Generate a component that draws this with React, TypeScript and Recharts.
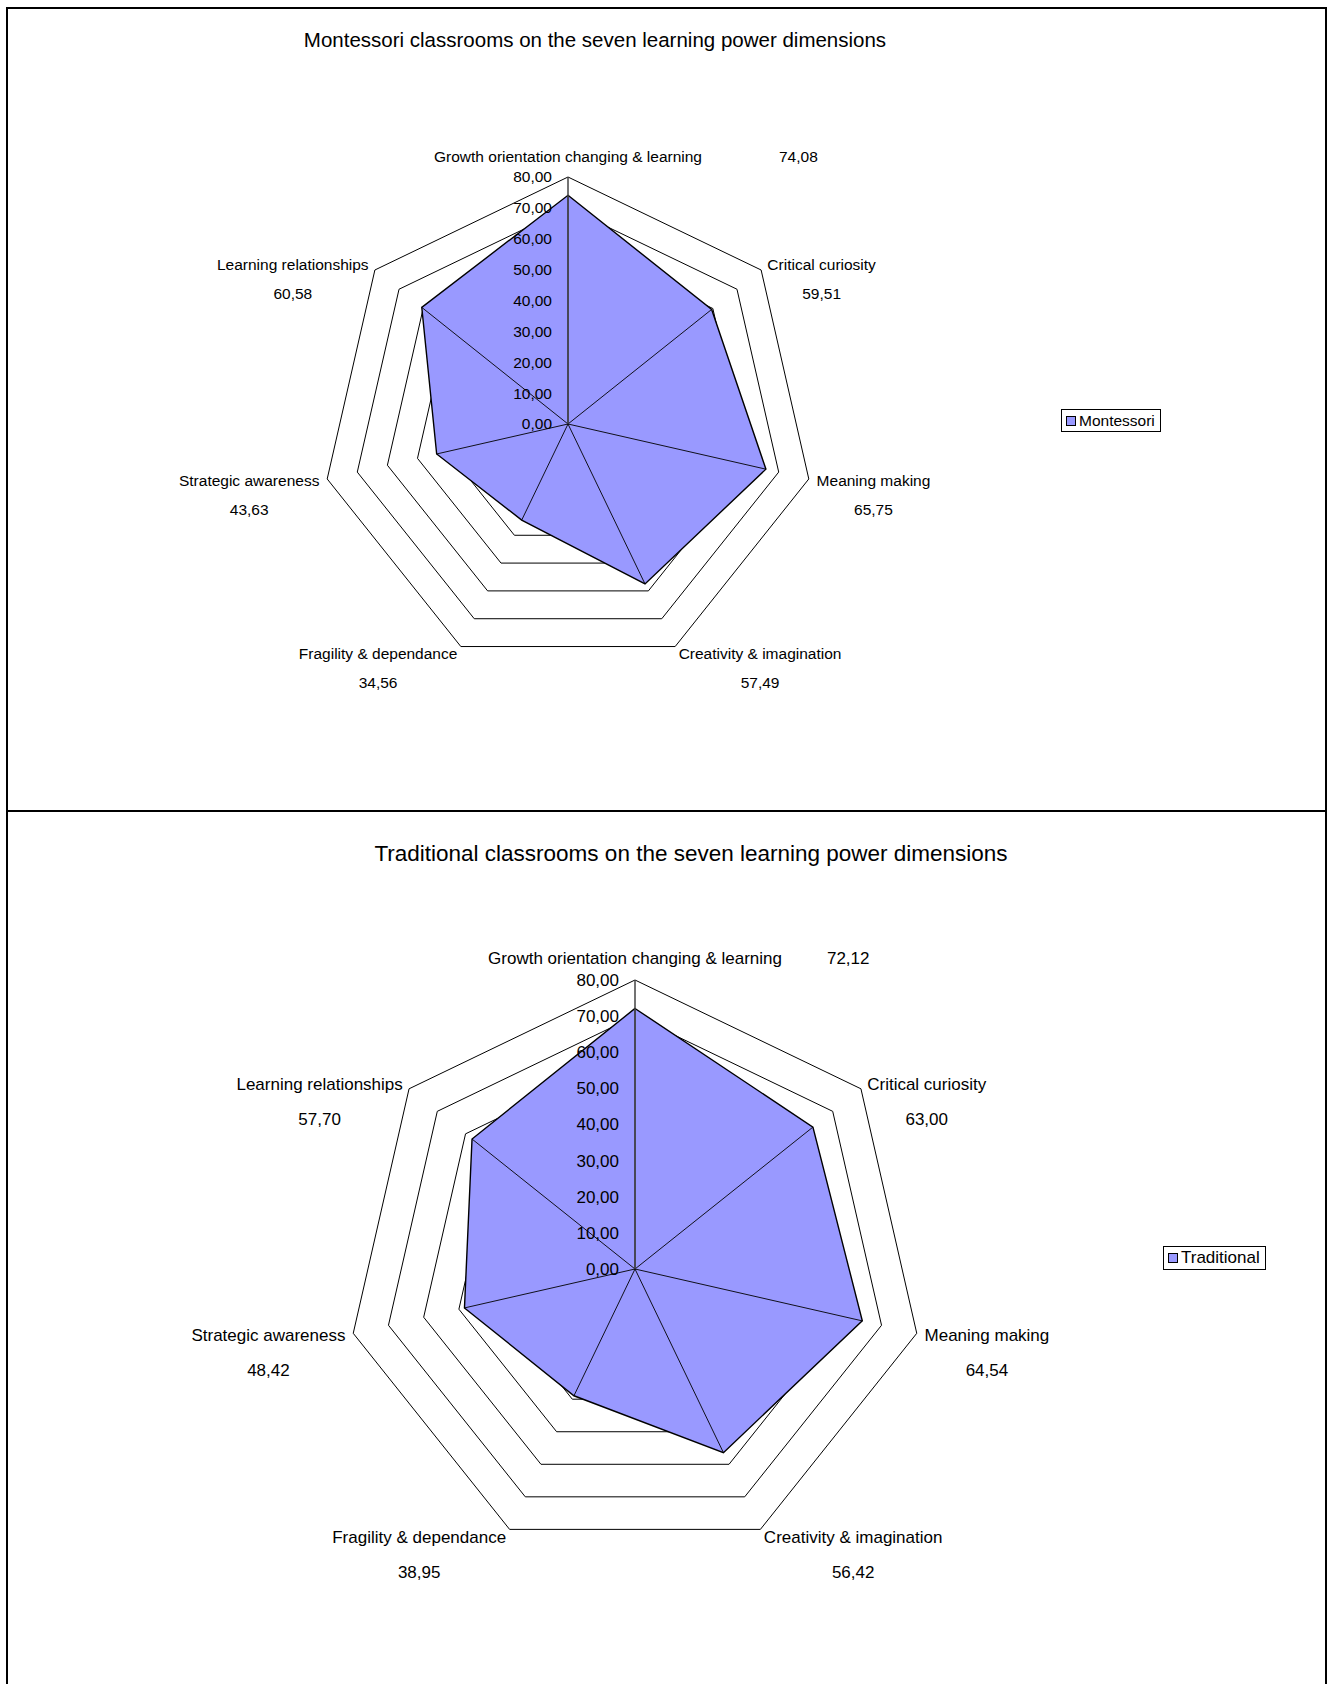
import React from "react";
import {
  RadarChart,
  Radar,
  PolarGrid,
  PolarAngleAxis,
  PolarRadiusAxis,
  Legend,
} from "recharts";

const FONT = '"Liberation Sans", Arial, sans-serif';

// seven learning power dimensions, clockwise from the top
const categories = [
  "Growth orientation changing & learning",
  "Critical curiosity",
  "Meaning making",
  "Creativity & imagination",
  "Fragility & dependance",
  "Strategic awareness",
  "Learning relationships",
];

const montessoriValues = [74.08, 59.51, 65.75, 57.49, 34.56, 43.63, 60.58];
const traditionalValues = [72.12, 63.0, 64.54, 56.42, 38.95, 48.42, 57.7];

const radiusDomain = [0, 80];
const radiusTickCount = 9;

const fmt = (v: number) => v.toFixed(2).replace(".", ",");

let canvas: HTMLCanvasElement | null = null;
const textWidth = (text: string, size: number) => {
  if (!canvas) canvas = document.createElement("canvas");
  const ctx = canvas.getContext("2d");
  if (!ctx) return text.length * size * 0.5;
  ctx.font = `${size}px ${FONT}`;
  return ctx.measureText(text).width;
};

// filled polygon plus spokes from the centre to each data point (Excel style)
const FilledShape = (props: any) => {
  const points = props.points || [];
  if (!points.length) return null;
  const cx = points[0].cx;
  const cy = points[0].cy;
  const poly = points.map((p: any) => `${p.x},${p.y}`).join(" ");
  return (
    <g>
      <polygon points={poly} fill="#9999FF" stroke="#000" strokeWidth={1.4} />
      {points.map((p: any, i: number) => (
        <line
          key={i}
          x1={cx}
          y1={cy}
          x2={p.x}
          y2={p.y}
          stroke="#000"
          strokeWidth={0.9}
        />
      ))}
    </g>
  );
};

type PanelProps = {
  title: string;
  seriesName: string;
  values: number[];
  top: number;
  height: number;
  cx: number;
  cy: number;
  radius: number;
  fontSize: number;
  titleSize: number;
  titleX: number;
  titleY: number;
  legendX: number;
  legendY: number;
  valueDy: number;
  topValueGap: number;
};

function RadarPanel(p: PanelProps) {
  const data = categories.map((name, i) => ({ name, value: p.values[i] }));

  const AngleTick = (tp: any) => {
    const { x, y, textAnchor, payload } = tp;
    const idx =
      typeof tp.index === "number" ? tp.index : categories.indexOf(payload.value);
    const label = payload.value as string;
    const val = fmt(p.values[idx]);
    const w = textWidth(label, p.fontSize);
    if (textAnchor === "middle") {
      const base = y - p.fontSize * 0.45;
      return (
        <g>
          <text x={x} y={base} textAnchor="middle" fontSize={p.fontSize} fill="#000" fontFamily={FONT}>
            {label}
          </text>
          <text x={x + w / 2 + p.topValueGap} y={base} textAnchor="start" fontSize={p.fontSize} fill="#000" fontFamily={FONT}>
            {val}
          </text>
        </g>
      );
    }
    const base = y + p.fontSize * 0.35;
    const mid = textAnchor === "start" ? x + w / 2 : x - w / 2;
    return (
      <g>
        <text x={x} y={base} textAnchor={textAnchor} fontSize={p.fontSize} fill="#000" fontFamily={FONT}>
          {label}
        </text>
        <text x={mid} y={base + p.valueDy} textAnchor="middle" fontSize={p.fontSize} fill="#000" fontFamily={FONT}>
          {val}
        </text>
      </g>
    );
  };

  const RadiusTick = (tp: any) => {
    const { x, y, payload } = tp;
    return (
      <text
        x={x - 16}
        y={y + p.fontSize * 0.35}
        textAnchor="end"
        fontSize={p.fontSize}
        fill="#000"
        fontFamily={FONT}
      >
        {fmt(Number(payload.value))}
      </text>
    );
  };

  const LegendBox = (lp: any) => {
    const items = lp.payload || [];
    return (
      <div>
        {items.map((it: any) => (
          <div
            key={it.value}
            style={{
              display: "inline-flex",
              alignItems: "center",
              border: "1px solid #000",
              background: "#fff",
              padding: "1px 5px 1px 4px",
              fontFamily: FONT,
              fontSize: p.fontSize,
              lineHeight: `${Math.round(p.fontSize * 1.2)}px`,
              color: "#000",
            }}
          >
            <span
              style={{
                display: "inline-block",
                width: 8,
                height: 8,
                background: "#9999FF",
                border: "1px solid #000",
                marginRight: 3,
              }}
            />
            {it.value}
          </div>
        ))}
      </div>
    );
  };

  return (
    <div style={{ position: "absolute", left: 0, top: p.top, width: 1332, height: p.height }}>
      <div
        style={{
          position: "absolute",
          left: p.titleX - 400,
          width: 800,
          top: p.titleY - p.titleSize * 0.575,
          textAlign: "center",
          fontFamily: FONT,
          fontSize: p.titleSize,
          lineHeight: 1.15,
          color: "#000",
        }}
      >
        {p.title}
      </div>
      <RadarChart
        width={1332}
        height={p.height}
        data={data}
        cx={p.cx}
        cy={p.cy}
        outerRadius={p.radius}
        margin={{ top: 0, right: 0, bottom: 0, left: 0 }}
      >
        <PolarGrid gridType="polygon" radialLines={false} stroke="#000" strokeWidth={1} />
        <PolarAngleAxis dataKey="name" tick={<AngleTick />} tickLine={false} axisLine={false} />
        <Radar
          name={p.seriesName}
          dataKey="value"
          shape={<FilledShape />}
          fill="#9999FF"
          stroke="#000"
          fillOpacity={1}
          isAnimationActive={false}
        />
        <PolarRadiusAxis
          angle={90}
          domain={radiusDomain}
          tickCount={radiusTickCount}
          axisLine={{ stroke: "#444", strokeWidth: 1.5 }}
          tickLine={false}
          tick={<RadiusTick />}
        />
        <Legend
          content={<LegendBox />}
          wrapperStyle={{ left: p.legendX, top: p.legendY, width: "auto", right: "auto", bottom: "auto" }}
        />
      </RadarChart>
    </div>
  );
}

export default function App() {
  return (
    <div
      style={{
        position: "absolute",
        left: 0,
        top: 0,
        width: 1332,
        height: 1684,
        overflow: "hidden",
        background: "#fff",
      }}
    >
      <div
        style={{
          position: "absolute",
          left: 6,
          top: 7,
          width: 1321,
          height: 805,
          border: "2px solid #000",
          boxSizing: "border-box",
        }}
      />
      <div
        style={{
          position: "absolute",
          left: 6,
          top: 810,
          width: 1321,
          height: 900,
          border: "2px solid #000",
          boxSizing: "border-box",
        }}
      />
      <RadarPanel
        title="Montessori classrooms on the seven learning power dimensions"
        seriesName="Montessori"
        values={montessoriValues}
        top={0}
        height={811}
        cx={568}
        cy={424}
        radius={247}
        fontSize={15.5}
        titleSize={20.5}
        titleX={595}
        titleY={40}
        legendX={1061}
        legendY={409}
        valueDy={29}
        topValueGap={77}
      />
      <RadarPanel
        title="Traditional classrooms on the seven learning power dimensions"
        seriesName="Traditional"
        values={traditionalValues}
        top={811}
        height={873}
        cx={635}
        cy={458}
        radius={289}
        fontSize={17}
        titleSize={22.5}
        titleX={691}
        titleY={43}
        legendX={1163}
        legendY={435}
        valueDy={35}
        topValueGap={45}
      />
    </div>
  );
}
